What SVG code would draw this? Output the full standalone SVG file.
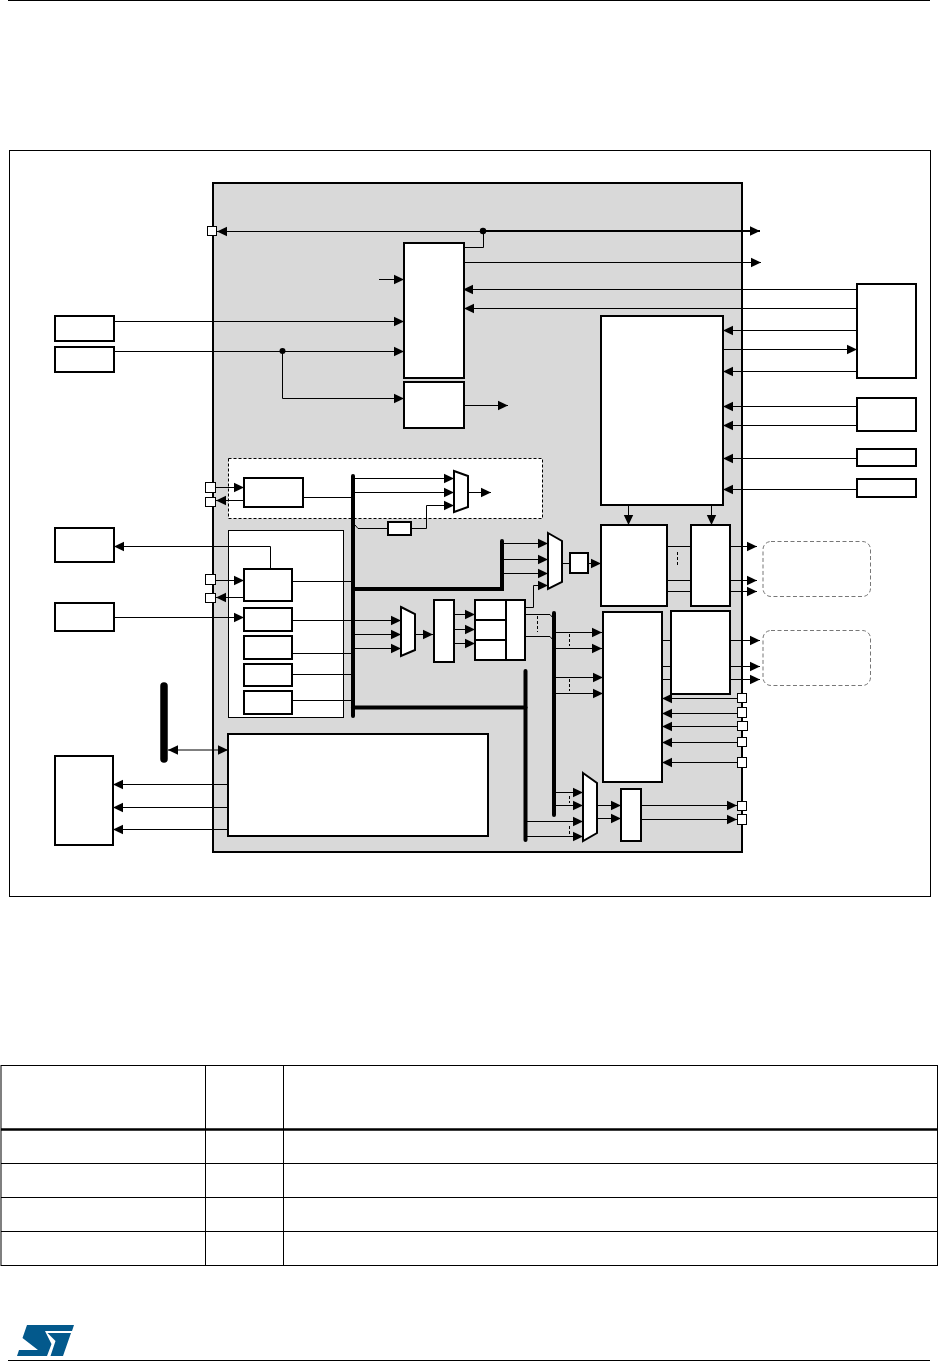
<svg xmlns="http://www.w3.org/2000/svg" width="938" height="1361" viewBox="0 0 938 1361">
<style>
.ln{fill:none;stroke:#000;stroke-width:1}
.th{fill:none;stroke:#000;stroke-width:2}
.bus{fill:none;stroke:#000;stroke-width:4;stroke-linecap:round}
.box{fill:#fff;stroke:#000;stroke-width:2}
.pn{fill:#fff;stroke:#000;stroke-width:1}
.pt{fill:#fff;stroke:#000;stroke-width:1}
.cl{fill:none;stroke:#000;stroke-width:1;stroke-dasharray:3 2}
.cloud{fill:#fff;stroke:#777;stroke-width:1;stroke-dasharray:4 2.5}
.tb{fill:none;stroke:#000;stroke-width:1}
</style>
<defs>
<marker id="a" markerUnits="userSpaceOnUse" markerWidth="11" markerHeight="11" refX="10" refY="5.5" orient="auto-start-reverse"><path d="M0 .8L10 5.500L0 10.200Z"/></marker>
</defs>
<rect width="938" height="1361" fill="#fff"/>
<path class="ln" d="M8 .5H930M8 1360.5H930"/>
<rect x="9.5" y="150.5" width="921" height="746" class="tb"/>
<g id="chip"><rect x="213" y="183" width="529" height="669" fill="#d9d9d9" stroke="#000" stroke-width="2"/></g>
<g id="dashed-panel"><rect x="228.5" y="458.5" width="314" height="60" fill="#fff" stroke="#000" stroke-dasharray="3 2"/></g>
<g id="panel"><rect x="228.5" y="530.5" width="115" height="187" class="pn"/></g>

<g id="connectors">
<path class="ln" marker-start="url(#a)" d="M217 231.5H483"/>
<path class="th" marker-end="url(#a)" d="M483 231H760"/>
<path class="ln" d="M464 247.5H483.5V231"/>
<path class="ln" marker-end="url(#a)" d="M464 262.5H761"/>
<path class="ln" marker-end="url(#a)" d="M379 279.5H404"/>
<path class="ln" marker-end="url(#a)" d="M114 321.5H404"/>
<path class="ln" marker-end="url(#a)" d="M114 351.5H404"/>
<path class="ln" marker-end="url(#a)" d="M282.5 351.5V398.5H404"/>
<path class="ln" marker-end="url(#a)" d="M464 405.5H508"/>
<path class="ln" marker-end="url(#a)" d="M857 289.5H463"/>
<path class="ln" marker-end="url(#a)" d="M857 308.5H464"/>
<path class="ln" marker-end="url(#a)" d="M857 330.5H723"/>
<path class="ln" marker-end="url(#a)" d="M723 349.5H857"/>
<path class="ln" marker-end="url(#a)" d="M857 371.5H723"/>
<path class="ln" marker-end="url(#a)" d="M857 406.5H723"/>
<path class="ln" marker-end="url(#a)" d="M857 425.5H723"/>
<path class="ln" marker-end="url(#a)" d="M857 458.5H723"/>
<path class="ln" marker-end="url(#a)" d="M857 489.5H723"/>
<path class="ln" marker-end="url(#a)" d="M628.5 505V525"/>
<path class="ln" marker-end="url(#a)" d="M711.5 505V525"/>

<path class="ln" marker-end="url(#a)" d="M215 487.5H244"/>
<path class="ln" marker-end="url(#a)" d="M244 500.5H216"/>
<path class="ln" d="M303 497.5H353"/>
<path class="ln" marker-end="url(#a)" d="M353 478.5H454"/>
<path class="ln" marker-end="url(#a)" d="M353 492.5H454"/>
<path class="ln" d="M355 525L358 528.5H388"/>
<path class="ln" marker-end="url(#a)" d="M411 528.5H426.5V505.5H454"/>
<path class="ln" marker-end="url(#a)" d="M468 492.5H491"/>

<path class="ln" marker-end="url(#a)" d="M270.5 569V546.5H114"/>
<path class="ln" marker-end="url(#a)" d="M215 580.5H244"/>
<path class="ln" marker-end="url(#a)" d="M244 597.5H216"/>
<path class="ln" marker-end="url(#a)" d="M114 617.5H244"/>
<path class="ln" d="M292 581.5H353"/>
<path class="ln" marker-end="url(#a)" d="M292 620.5H401"/>
<path class="ln" d="M292 653.5H353"/>
<path class="ln" marker-end="url(#a)" d="M353 634.5H401"/>
<path class="ln" marker-end="url(#a)" d="M353 648.5H401"/>
<path class="ln" d="M292 674.5H353"/>
<path class="ln" d="M292 700.5H353"/>

<path class="ln" marker-start="url(#a)" marker-end="url(#a)" d="M168 750H228"/>
<path class="ln" marker-end="url(#a)" d="M228 784.5H113"/>
<path class="ln" marker-end="url(#a)" d="M228 807.5H113"/>
<path class="ln" marker-end="url(#a)" d="M228 829.5H113"/>

<path class="ln" marker-end="url(#a)" d="M502 543.5H548"/>
<path class="ln" marker-end="url(#a)" d="M502 559.5H548"/>
<path class="ln" marker-end="url(#a)" d="M502 573.5H548"/>
<path class="ln" marker-end="url(#a)" d="M525 607.5H533.5V585.5H548"/>
<path class="ln" d="M562 563.5H570"/>
<path class="ln" marker-end="url(#a)" d="M588 563.5H601"/>
<path class="ln" marker-end="url(#a)" d="M415 634.5H433"/>
<path class="ln" marker-end="url(#a)" d="M454 614.5H475"/>
<path class="ln" marker-end="url(#a)" d="M454 629.5H475"/>
<path class="ln" marker-end="url(#a)" d="M454 643.5H475"/>
<path class="ln" d="M525 614.5H550L553 618"/>
<path class="ln" d="M525 636.5H550L553 640"/>
<path class="cl" d="M537.5 616V632"/>
<path class="ln" marker-end="url(#a)" d="M554 632.5H602"/>
<path class="ln" marker-end="url(#a)" d="M554 648.5H602"/>
<path class="ln" marker-end="url(#a)" d="M554 677.5H603"/>
<path class="ln" marker-end="url(#a)" d="M554 693.5H603"/>
<path class="cl" d="M569.5 634V646M569.5 679V691"/>
<path class="ln" marker-end="url(#a)" d="M554 792.5H583"/>
<path class="ln" marker-end="url(#a)" d="M554 805.5H583"/>
<path class="ln" marker-end="url(#a)" d="M525 821.5H583"/>
<path class="ln" marker-end="url(#a)" d="M525 836.5H583"/>
<path class="cl" d="M569.5 796V803M569.5 826V834"/>
<path class="ln" marker-end="url(#a)" d="M597 805.5H621"/>
<path class="ln" marker-end="url(#a)" d="M597 818.5H621"/>
<path class="ln" marker-end="url(#a)" d="M641 805.5H737"/>
<path class="ln" marker-end="url(#a)" d="M641 819.5H737"/>

<path class="ln" d="M667 546.5H691M667 580.5H691M667 591.5H691"/>
<path class="cl" d="M677.5 552V567"/>
<path class="ln" marker-end="url(#a)" d="M730 546.5H757"/>
<path class="ln" marker-end="url(#a)" d="M730 580.5H757"/>
<path class="ln" marker-end="url(#a)" d="M730 591.5H757"/>
<path class="ln" d="M662 640.5H671M662 666.5H671M662 679.5H671"/>
<path class="ln" marker-end="url(#a)" d="M730 640.5H760"/>
<path class="ln" marker-end="url(#a)" d="M730 666.5H760"/>
<path class="ln" marker-end="url(#a)" d="M730 679.5H760"/>
<path class="ln" marker-end="url(#a)" d="M737 698.5H662"/>
<path class="ln" marker-end="url(#a)" d="M737 713.5H662"/>
<path class="ln" marker-end="url(#a)" d="M737 726.5H662"/>
<path class="ln" marker-end="url(#a)" d="M737 742.5H662"/>
<path class="ln" marker-end="url(#a)" d="M737 762.5H662"/>

<path class="bus" d="M353 476V716"/>
<path class="bus" d="M353 589H502V541"/>
<path class="bus" d="M353 707.5H525.5"/>
<path class="bus" d="M525.5 671V840"/>
<path class="bus" d="M554 613V815"/>
<path d="M164 686V759" fill="none" stroke="#000" stroke-width="7.5" stroke-linecap="round"/>
<circle cx="483" cy="231" r="3.200"/>
<circle cx="282.500" cy="351" r="3"/>
</g>

<g id="ext-1"><rect x="55" y="316" width="59" height="25" class="box"/></g>
<g id="ext-2"><rect x="55" y="347" width="59" height="25" class="box"/></g>
<g id="ext-3"><rect x="55" y="528" width="59" height="34" class="box"/></g>
<g id="ext-4"><rect x="55" y="603" width="59" height="28" class="box"/></g>
<g id="ext-5"><rect x="55" y="756" width="58" height="89" class="box"/></g>
<g id="ext-6"><rect x="857" y="284" width="59" height="94" class="box"/></g>
<g id="ext-7"><rect x="857" y="398" width="59" height="33" class="box"/></g>
<g id="ext-8"><rect x="857" y="449" width="59" height="17" class="box"/></g>
<g id="ext-9"><rect x="857" y="479" width="59" height="18" class="box"/></g>
<g id="cloud-1"><rect x="763" y="541.500" width="107.500" height="55" rx="8" class="cloud"/></g>
<g id="cloud-2"><rect x="763" y="630.500" width="107.500" height="55" rx="8" class="cloud"/></g>

<g id="block-a"><rect x="404" y="243" width="60" height="135" class="box"/></g>
<g id="block-b"><rect x="404" y="382" width="60" height="46" class="box"/></g>
<g id="block-m"><rect x="601" y="316" width="122" height="189" class="box"/></g>
<g id="block-d"><rect x="601" y="525" width="66" height="81" class="box"/></g>
<g id="block-i"><rect x="691" y="525" width="39" height="81" class="box"/></g>
<g id="block-e"><rect x="603" y="612" width="59" height="170" class="box"/></g>
<g id="block-j"><rect x="671" y="611" width="59" height="83" class="box"/></g>
<g id="block-c"><rect x="244" y="478" width="59" height="29" class="box"/></g>
<g id="block-small"><rect x="388" y="522" width="23" height="13" class="box"/></g>
<g id="block-s2"><rect x="570" y="553" width="18" height="20" class="box"/></g>
<g id="block-p1"><rect x="244" y="569" width="48" height="32" class="box"/></g>
<g id="block-p2"><rect x="244" y="608" width="48" height="23" class="box"/></g>
<g id="block-p3"><rect x="244" y="636" width="48" height="23" class="box"/></g>
<g id="block-p4"><rect x="244" y="664" width="48" height="22" class="box"/></g>
<g id="block-p5"><rect x="244" y="691" width="48" height="23" class="box"/></g>
<g id="block-big"><rect x="228" y="734" width="260" height="102" class="box"/></g>
<g id="block-f"><rect x="434" y="600" width="20" height="62" class="box"/></g>
<g id="block-g"><rect x="475" y="600" width="50" height="60" class="box"/><path class="th" d="M506 600V660M475 620H506M475 640H506"/></g>
<g id="block-h"><rect x="621" y="789" width="20" height="52" class="box"/></g>
<g id="mux-1"><path class="box" d="M454 471L468 476V507L454 512Z"/></g>
<g id="mux-2"><path class="box" d="M548 533L562 541V582L548 589Z"/></g>
<g id="mux-3"><path class="box" d="M401 607L415 614V650L401 656Z"/></g>
<g id="mux-4"><path class="box" d="M583 773L597 783V833L583 841Z"/></g>

<g id="ports">
<rect x="207.500" y="226.500" width="9" height="9" class="pt"/>
<rect x="205.500" y="482.500" width="10" height="10" class="pt"/>
<rect x="205.500" y="497.500" width="10" height="9" class="pt"/>
<rect x="205.500" y="574.500" width="10" height="10" class="pt"/>
<rect x="205.500" y="593.500" width="10" height="9" class="pt"/>
<rect x="737.500" y="693.500" width="9" height="9" class="pt"/>
<rect x="737.500" y="707.500" width="9" height="10" class="pt"/>
<rect x="737.500" y="721.500" width="10" height="9" class="pt"/>
<rect x="737.500" y="737.500" width="9" height="9" class="pt"/>
<rect x="737.500" y="757.500" width="9" height="10" class="pt"/>
<rect x="737.500" y="801.500" width="9" height="9" class="pt"/>
<rect x="737.500" y="814.500" width="9" height="10" class="pt"/>
</g>

<g id="table" class="tb">
<rect x="1" y="1065.500" width="936.500" height="200" class="tb"/>
<path class="tb" d="M205.500 1065.500V1265.500M283.500 1065.500V1265.500M1 1163.500H937.500M1 1197.500H937.500M1 1231.500H937.500"/>
<path d="M1 1129.500H937.500" stroke="#000" stroke-width="2.500" fill="none"/>
</g>
<g id="logo"><path fill="#03598c" d="M27 1325H74L72 1331H45L51.500 1344L47 1356H17L19 1350H38L22.500 1338ZM47.500 1333H71L63 1356H50.500L55.500 1341Z"/></g>
</svg>
